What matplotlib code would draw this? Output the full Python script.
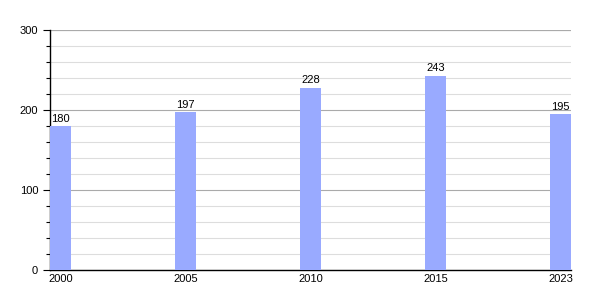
import matplotlib
matplotlib.use("Agg")
from matplotlib import pyplot as plt
from matplotlib.ticker import MultipleLocator

years = ["2000", "2005", "2010", "2015", "2023"]
values = [180, 197, 228, 243, 195]

plt.rcParams["font.family"] = ["Liberation Sans", "DejaVu Sans"]

fig = plt.figure(figsize=(6, 3), dpi=100)
ax = fig.add_axes([0.0833, 0.1, 0.8687, 0.8])

w = 0.168
pos = list(range(len(years)))
ax.bar(pos, values, width=w, align="edge", color="#99aaff", zorder=3)
for x, v in zip(pos, values):
    ax.text(x + w / 2, v + 3, str(v), ha="center", va="bottom", fontsize=8, zorder=4)

ax.set_xlim(0, len(years) - 1 + w)
ax.set_ylim(0, 300)
ax.set_xticks([p + w / 2 for p in pos])
ax.set_xticklabels(years, fontsize=8)
ax.yaxis.set_major_locator(MultipleLocator(100))
ax.yaxis.set_minor_locator(MultipleLocator(20))
ax.tick_params(axis="y", which="major", labelsize=8, length=5, width=0.8)
ax.tick_params(axis="y", which="minor", length=3, width=0.8)
ax.tick_params(axis="x", length=0, pad=3)

ax.grid(axis="y", which="minor", color="#dddddd", linewidth=0.8, zorder=0)
ax.grid(axis="y", which="major", color="#aaaaaa", linewidth=0.8, zorder=1)
ax.set_axisbelow(True)

for s in ["top", "right"]:
    ax.spines[s].set_visible(False)
ax.spines["left"].set_linewidth(1)
ax.spines["bottom"].set_linewidth(1)

# top gridline at 300
ax.axhline(300, color="#aaaaaa", linewidth=0.8, zorder=1)

fig.savefig("out.png", dpi=100)
